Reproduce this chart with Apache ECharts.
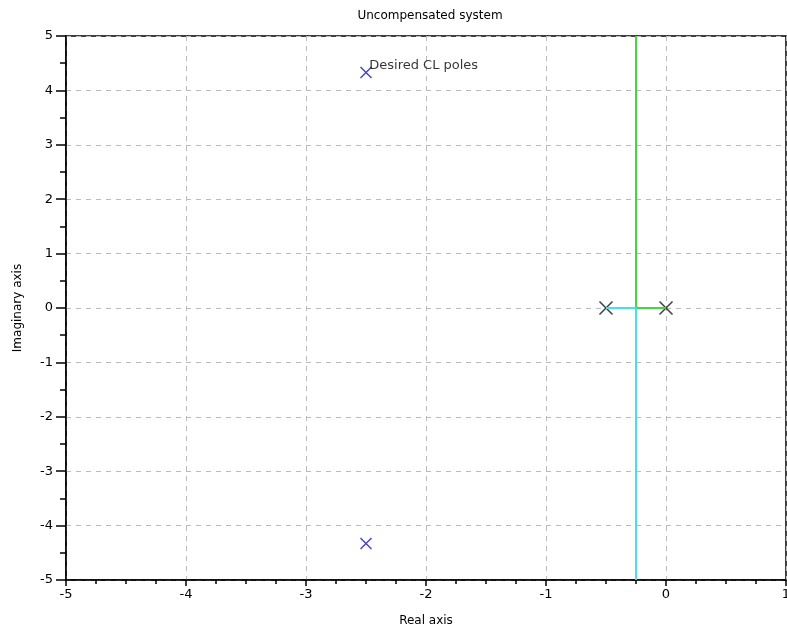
<!DOCTYPE html>
<html>
<head>
<meta charset="utf-8">
<script src="https://cdn.jsdelivr.net/npm/echarts@6/dist/echarts.min.js"></script>
<style>html,body{margin:0;padding:0;background:#fff;}#c{width:787px;height:634px;}</style>
</head>
<body>
<div id="c"></div>
<script>
const titleText = 'Uncompensated system';
const xAxisName = 'Real axis';
const yAxisName = 'Imaginary axis';
const xRange = [-5, 1];
const yRange = [-5, 5];
const openLoopPoles = [[0, 0], [-0.5, 0]];
const desiredPoles = [[-2.5, 4.33], [-2.5, -4.33]];
const desiredLabel = 'Desired CL poles';
const branchUp = [[0, 0], [-0.25, 0], [-0.25, 5]];
const branchDown = [[-0.5, 0], [-0.25, 0], [-0.25, -5]];
const breakaway = [[-0.25, 0]];

const xPath = 'path://M0,0L10,10M10,0L0,10';
const font = 'DejaVu Sans';

const chart = echarts.init(document.getElementById('c'));
chart.setOption({
  animation: false,
  backgroundColor: '#fff',
  title: {
    text: titleText, left: 425, top: 5, textAlign: 'center',
    textStyle: {fontFamily: font, fontSize: 12, fontWeight: 'normal', color: '#000'}
  },
  grid: {left: 66, right: 1, top: 36, bottom: 54, show: true, borderColor: '#000', borderWidth: 1.5,
    outerBoundsMode: 'none', containLabel: false},
  xAxis: {
    type: 'value', min: xRange[0], max: xRange[1], interval: 1,
    name: xAxisName, nameLocation: 'middle', nameGap: 35,
    nameTextStyle: {fontFamily: font, fontSize: 12, color: '#000'},
    axisLine: {show: true, onZero: false, lineStyle: {color: '#000', width: 1.5}},
    axisTick: {show: true, length: 6, lineStyle: {color: '#000', width: 1.5}},
    minorTick: {show: true, splitNumber: 4, length: 4, lineStyle: {color: '#000', width: 1.5}},
    axisLabel: {fontFamily: font, fontSize: 13, color: '#000', margin: 8},
    splitLine: {show: true, lineStyle: {color: '#bbb', type: [5, 5], width: 1}}
  },
  yAxis: {
    type: 'value', min: yRange[0], max: yRange[1], interval: 1,
    name: yAxisName, nameLocation: 'middle', nameGap: 42,
    nameTextStyle: {fontFamily: font, fontSize: 12, color: '#000'},
    axisLine: {show: true, onZero: false, lineStyle: {color: '#000', width: 1.5}},
    axisTick: {show: true, length: 10, lineStyle: {color: '#000', width: 1.5}},
    minorTick: {show: true, splitNumber: 2, length: 6, lineStyle: {color: '#000', width: 1.5}},
    axisLabel: {fontFamily: font, fontSize: 13, color: '#000', margin: 13},
    splitLine: {show: true, lineStyle: {color: '#bbb', type: [5, 5], width: 1}}
  },
  series: [
    {type: 'line', data: branchUp, symbol: 'none', lineStyle: {color: '#3fd83f', width: 2}, clip: true},
    {type: 'line', data: branchDown, symbol: 'none', lineStyle: {color: '#44e0ee', width: 2}, clip: true},
    {type: 'scatter', data: breakaway, symbol: 'rect', symbolSize: [2, 4], itemStyle: {color: '#000'}},
    {type: 'scatter', data: openLoopPoles, symbol: xPath, symbolSize: 13,
      itemStyle: {color: 'transparent', borderColor: '#111', borderWidth: 1.5}},
    {type: 'scatter', data: desiredPoles, symbol: xPath, symbolSize: 11,
      itemStyle: {color: 'transparent', borderColor: '#1a1ab8', borderWidth: 1.5},
      label: {
        show: true,
        formatter: p => p.dataIndex === 0 ? desiredLabel : '',
        position: 'right', distance: 0, offset: [-3, -7],
        fontFamily: font, fontSize: 13, color: '#000'
      }}
  ]
});
</script>
</body>
</html>
